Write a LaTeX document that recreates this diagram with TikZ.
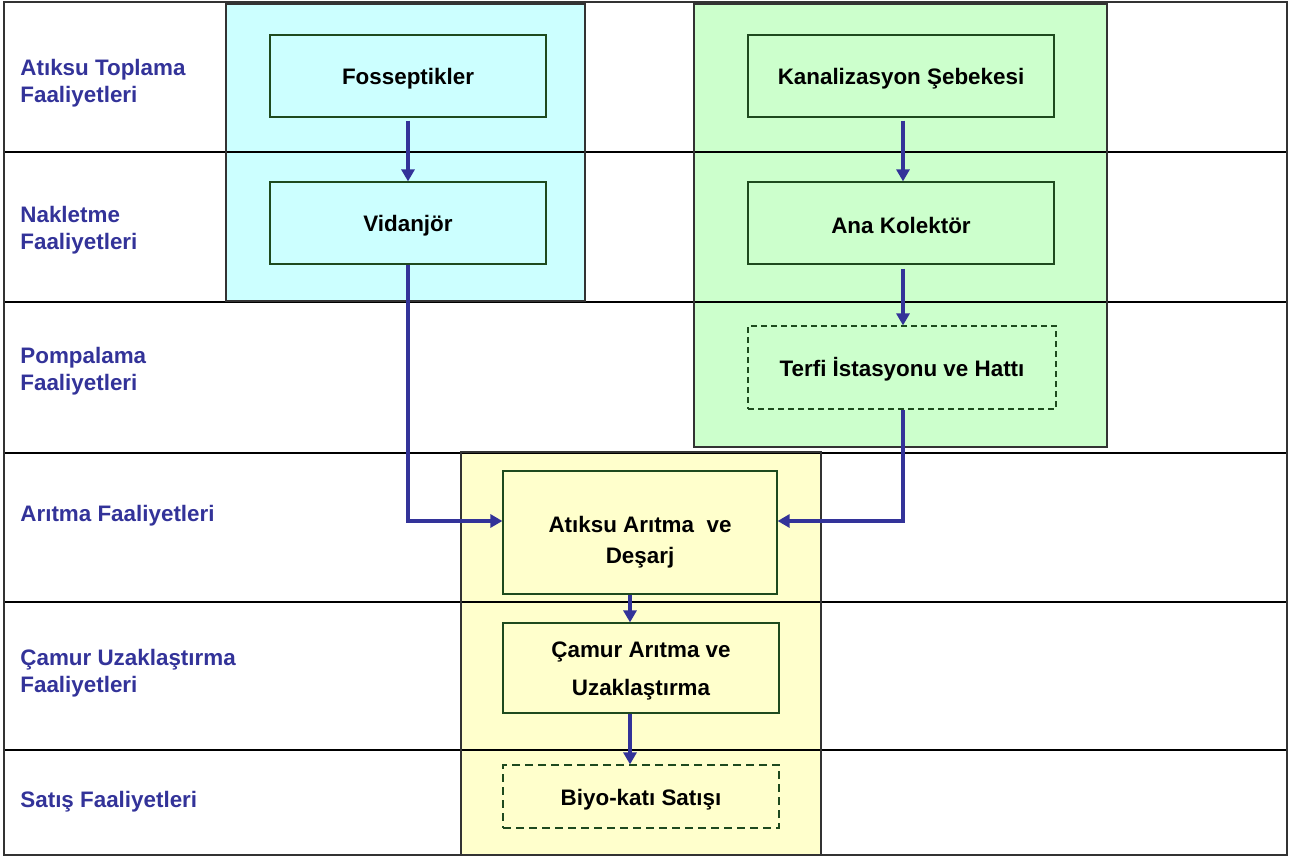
\documentclass[tikz,border=0pt]{standalone}
\usepackage{fontspec}
\setmainfont{Liberation Sans}
\usetikzlibrary{positioning,arrows.meta}
\definecolor{lanecyan}{HTML}{CCFFFF}
\definecolor{lanegreen}{HTML}{CCFFCC}
\definecolor{laneyellow}{HTML}{FFFFCC}
\definecolor{flowblue}{HTML}{333399}
\definecolor{boxgreen}{HTML}{1E4A1E}
\definecolor{framegray}{HTML}{333333}
\tikzset{
  basic/.style   = {draw=boxgreen, line width=0.6pt, rectangle, align=center,
                    inner sep=0pt, font=\bfseries\fontsize{11.2}{13.5}\selectfont},
  work/.style    = {basic, minimum width=138pt, minimum height=41pt},
  planned/.style = {work, dash pattern=on 3pt off 2pt},
  lane/.style    = {anchor=west, align=left, text=flowblue, inner sep=0pt,
                    font=\bfseries\fontsize{11.2}{13.5}\selectfont},
  group/.style   = {draw=framegray, line width=1pt},
  flow/.style    = {draw=flowblue, line width=2pt,
                    -{Triangle[length=6pt,width=6.5pt]}}
}

\begin{document}
\begin{tikzpicture}[x=0.5pt,y=-0.5pt]
\useasboundingbox (0,0) rectangle (1290,856);

% coloured groups behind everything
\fill[lanecyan]   (226,4) rectangle (585,301);
\fill[lanegreen]  (694,4) rectangle (1107,447);
\fill[laneyellow] (461,452) rectangle (821,855);

% swim lane separators and outer frame
\foreach \y in {152,302,453,602,750}
  \draw[line width=1pt] (4,\y) -- (1287,\y);
\draw[line width=1pt, draw=framegray] (4,2) rectangle (1287,855);

\draw[group] (226,4) rectangle (585,301);
\draw[group] (694,4) rectangle (1107,447);
\draw[group] (461,452) rectangle (821,855);

% lane titles
\node[lane] (toplama)  at (20,83)  {Atıksu Toplama\\Faaliyetleri};
\node[lane] (nakletme) at (20,230) {Nakletme\\Faaliyetleri};
\node[lane] (pompa)    at (20,371) {Pompalama\\Faaliyetleri};
\node[lane] (aritma)   at (20,516) {Arıtma Faaliyetleri};
\node[lane] (camurlbl) at (20,673) {Çamur Uzaklaştırma\\Faaliyetleri};
\node[lane] (satis)    at (20,802) {Satış Faaliyetleri};

% process boxes
\node[work] (fos) at (408,76)  {\rule{0pt}{11pt}Fosseptikler};
\node[work] (vid) at (408,223) {\rule{0pt}{11pt}Vidanjör};
\node[work, minimum width=153pt] (kan) at (901,76)  {\rule{0pt}{11pt}Kanalizasyon Şebekesi};
\node[work, minimum width=153pt] (ana) at (901,223) {\rule{0pt}{11pt}Ana Kolektör};
\node[planned, minimum width=154pt, minimum height=41.5pt] (terfi) at (902,367.5)
  {\rule{0pt}{11pt}Terfi İstasyonu ve Hattı};
\node[work, minimum width=137pt, minimum height=61.5pt] (atk) at (640,532.5)
  {\rule{0pt}{18pt}Atıksu Arıtma~ ve\\[2pt]Deşarj};
\node[work, minimum height=45pt] (cam) at (641,668)
  {\rule{0pt}{11pt}Çamur Arıtma ve\\[5.5pt]Uzaklaştırma};
\node[planned, minimum height=31.5pt, dash pattern=on 4pt off 2.5pt] (biyo) at (641,796.5)
  {\rule{0pt}{11pt}Biyo-katı Satışı};

% flows
\draw[flow] ([yshift=-1.5pt]fos.south) -- (vid.north);
\draw[flow] ([xshift=1pt,yshift=-1.5pt]kan.south) -- ([xshift=1pt]ana.north);
\draw[flow] ([xshift=1pt,yshift=-2pt]ana.south) -- ([xshift=0.5pt]terfi.north);
\draw[flow] (vid.south) |- ([yshift=5.75pt]atk.west);
\draw[flow] ([xshift=0.5pt]terfi.south) |- ([yshift=5.75pt]atk.east);
\draw[flow] ([xshift=-5pt]atk.south) -- ([xshift=-5.5pt]cam.north);
\draw[flow] ([xshift=-5.5pt]cam.south) -- ([xshift=-5.5pt]biyo.north);
\end{tikzpicture}
\end{document}
